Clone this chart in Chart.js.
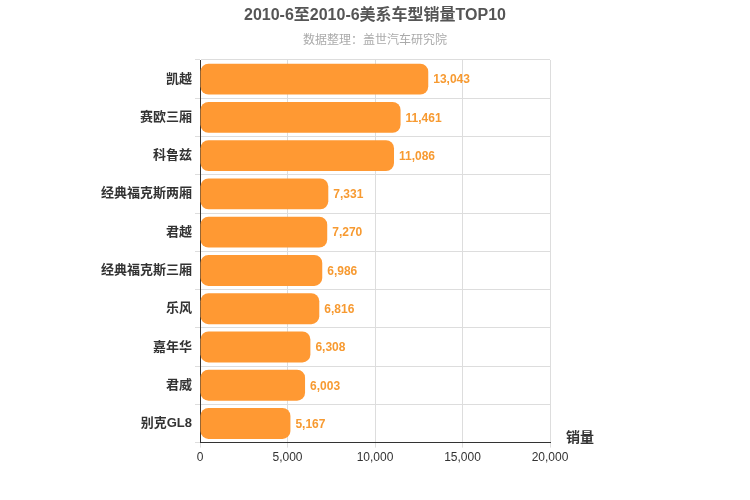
<!DOCTYPE html>
<html><head><meta charset="utf-8">
<script src="https://cdn.jsdelivr.net/npm/chart.js@4/dist/chart.umd.min.js"></script>
<style>body{margin:0;background:#fff}#w{width:750px;height:500px}</style>
</head><body><div id="w"><canvas id="c"></canvas></div>
<script>
const categories = ["凯越","赛欧三厢","科鲁兹","经典福克斯两厢","君越","经典福克斯三厢","乐风","嘉年华","君威","别克GL8"];
const sales = [13043,11461,11086,7331,7270,6986,6816,6308,6003,5167];
const xTicks = [0,5000,10000,15000,20000];
const FONT = "'Helvetica Neue', Arial, 'Noto Sans CJK SC', sans-serif";
const deco = {
  id:'deco',
  afterDraw(ch){
    const c = ch.ctx; c.save();
    c.textAlign='center'; c.textBaseline='middle';
    c.fillStyle='#555'; c.font="bold 16px "+FONT;
    c.fillText("2010-6至2010-6美系车型销量TOP10",375,16);
    c.fillStyle='#aaa'; c.font="12px "+FONT;
    c.fillText("数据整理：盖世汽车研究院",375,41);
    c.fillStyle='#333'; c.font="bold 14px "+FONT;
    c.fillText("销量",580,438);
    const m = ch.getDatasetMeta(0);
    c.textAlign='left'; c.fillStyle='#F79A31'; c.font="bold 12px "+FONT;
    m.data.forEach((b,i)=>c.fillText(sales[i].toLocaleString('en-US'), b.x+5, b.y+1));
    c.restore();
  }
};
new Chart(document.getElementById('c'),{
  type:'bar',
  data:{labels:categories,datasets:[{data:sales,backgroundColor:'#FF9933',borderRadius:8,borderSkipped:false,categoryPercentage:0.85,barPercentage:0.95}]},
  options:{
    indexAxis:'y',responsive:true,maintainAspectRatio:false,animation:false,
    layout:{padding:{top:60,right:200,bottom:32,left:0}},
    plugins:{legend:{display:false},tooltip:{enabled:false}},
    scales:{
      x:{min:0,max:20000,afterBuildTicks(s){s.ticks=xTicks.map(v=>({value:v}));},
        grid:{color:'#ddd',drawTicks:true,tickLength:5},border:{color:'#333'},
        ticks:{color:'#333',font:{size:12,family:FONT},callback:v=>v.toLocaleString('en-US')}},
      y:{afterFit(s){s.width=200;},grid:{offset:true,color:'#ddd',tickLength:5},border:{color:'#333'},
        ticks:{color:'#333',font:{size:13,weight:'bold',family:FONT}}}
    }
  },
  plugins:[deco]
});
</script></body></html>
